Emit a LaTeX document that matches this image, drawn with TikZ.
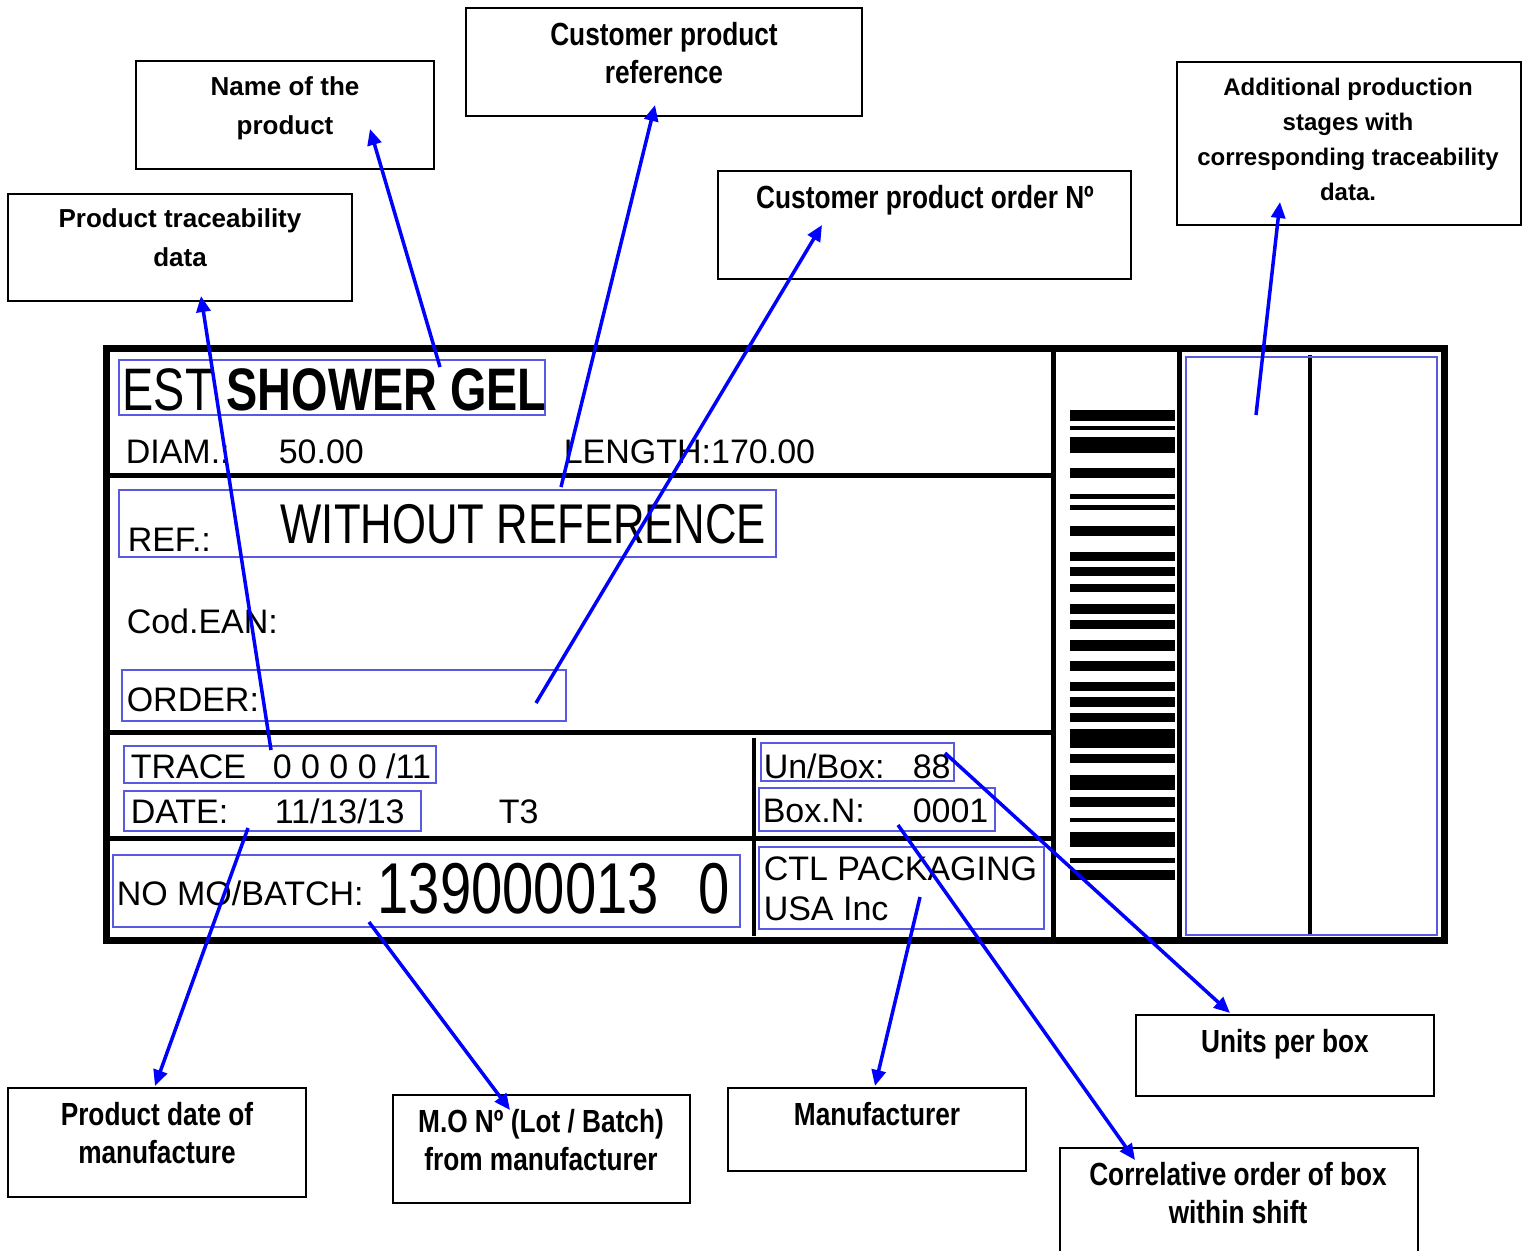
\documentclass[tikz,border=0pt]{standalone}
\usepackage{fontspec}
\setmainfont{Liberation Sans}
\newfontfamily\narrowfont[FakeStretch=0.82]{Liberation Sans}
\newfontfamily\condfont[FakeStretch=0.78]{Liberation Sans}
\usetikzlibrary{arrows.meta}
\definecolor{myblue}{RGB}{0,0,255}
\definecolor{myfieldblue}{RGB}{90,90,225}
\tikzset{every picture/.style={line width=0.75pt}}
\tikzset{
  callout/.style={draw=black, line width=1.2pt},
  fieldbox/.style={draw=myfieldblue, line width=1.2pt},
  pointer/.style={draw=myblue, line width=1.75pt, -{Triangle[length=8pt,width=7pt]}},
  calltext/.style={anchor=north, inner sep=0pt, align=center, font=\bfseries\fontsize{13}{19.5}\selectfont},
  narrowtext/.style={anchor=north, inner sep=0pt, align=center, font=\narrowfont\bfseries\fontsize{16}{19}\selectfont},
  labeltext/.style={anchor=base west, inner sep=0pt, font=\fontsize{17}{20}\selectfont},
}

\begin{document}
\begin{tikzpicture}[x=0.5pt,y=0.5pt,yscale=-1,xscale=1]
\useasboundingbox (0,0) rectangle (1526,1250);

%Shape: Label frame
\draw [line width=3.5pt] (106,348) rectangle (1444,940);
%Shape: Label rulings
\draw [line width=2.5pt] (110,475) -- (1053,475);
\draw [line width=2.5pt] (110,732) -- (1053,732);
\draw [line width=2.5pt] (110,838) -- (1053,838);
\draw [line width=2.5pt] (1053,350) -- (1053,938);
\draw [line width=2pt] (754,738) -- (754,936);
\draw [line width=2.5pt] (1179,352) -- (1179,938);
\draw [line width=2pt] (1310,355) -- (1310,936);

%Shape: Bar code
\foreach \ya/\yb in {410/421,426/430,437/453,468/478,494/499,505/510,526/536,552/561,567/576,584/592,604/614,620/629,640/651,661/671,682/691,697/707,713/722,729/748,754/763,775/790,797/807,818/822,832/847,858/863,870/880}
  \fill (1070,\ya) rectangle (1175,\yb);

%Shape: Field boxes
\draw [fieldbox] (119,360) rectangle (545,415);
\draw [fieldbox] (119,490) rectangle (776,557);
\draw [fieldbox] (122,670) rectangle (566,721);
\draw [fieldbox] (124,746) rectangle (436,783);
\draw [fieldbox] (124,791) rectangle (421,831);
\draw [fieldbox] (113,855) rectangle (740,927);
\draw [fieldbox] (761,743) rectangle (954,781);
\draw [fieldbox] (759,788) rectangle (995,831);
\draw [fieldbox] (759,847) rectangle (1044,929);
\draw [fieldbox] (1186,357) rectangle (1437,935);

% Text Node
\node [labeltext, font=\condfont\fontsize{30}{32}\selectfont] (prodName) at (122,410) {EST \textbf{SHOWER GEL}};
\node [labeltext] (diamLbl) at (125,463) {DIAM.:};
\node [labeltext] (diamVal) at (278,463) {50.00};
\node [labeltext] (lengthLbl) at (563,463) {LENGTH:170.00};
\node [labeltext] (refLbl) at (127,551) {REF.:};
\node [labeltext, font=\condfont\fontsize{28}{30}\selectfont] (refVal) at (280,543) {WITHOUT REFERENCE};
\node [labeltext] (eanLbl) at (126,633) {Cod.EAN:};
\node [labeltext] (orderLbl) at (126,711) {ORDER:};
\node [labeltext] (traceLbl) at (130,778) {TRACE};
\node [labeltext] (traceVal) at (272,778) {0 0 0 0 /11};
\node [labeltext] (dateLbl) at (130,823) {DATE:};
\node [labeltext] (dateVal) at (274,823) {11/13/13};
\node [labeltext] (shiftVal) at (498,823) {T3};
\node [labeltext] (batchLbl) at (116,905) {NO MO/BATCH:};
\node [labeltext, font=\condfont\fontsize{36}{38}\selectfont] (batchVal) at (377,913) {139000013};
\node [labeltext, font=\condfont\fontsize{36}{38}\selectfont] (batchEnd) at (698,913) {0};
\node [labeltext] (unitsLbl) at (763,778) {Un/Box:};
\node [labeltext] (unitsVal) at (912,778) {88};
\node [labeltext] (boxLbl) at (762,822) {Box.N:};
\node [labeltext] (boxVal) at (912,822) {0001};
\node [labeltext] (makerLbl) at (763,880) {CTL PACKAGING};
\node [labeltext] (makerLbl2) at (763,920) {USA Inc};

%Shape: Callout boxes
\draw [callout] (136,61) rectangle (434,169);
\draw [callout] (466,8) rectangle (862,116);
\draw [callout] (8,194) rectangle (352,301);
\draw [callout] (718,171) rectangle (1131,279);
\draw [callout] (1177,62) rectangle (1521,225);
\draw [callout] (8,1088) rectangle (306,1197);
\draw [callout] (393,1095) rectangle (690,1203);
\draw [callout] (728,1088) rectangle (1026,1171);
\draw [callout] (1136,1015) rectangle (1434,1096);
\draw [callout] (1060,1148) rectangle (1418,1262);

% Text Node
\node [calltext] (nameTxt) at (285,76) {Name of the\\product};
\node [narrowtext] (custRefTxt) at (664,22) {Customer product\\reference};
\node [calltext] (traceTxt) at (180,208) {Product traceability\\data};
\node [narrowtext] (orderTxt) at (925,185) {Customer product order Nº};
\node [calltext, font=\bfseries\fontsize{12}{17.5}\selectfont] (stagesTxt) at (1348,77) {Additional production\\stages with\\corresponding traceability\\data.};
\node [narrowtext] (dateTxt) at (157,1102) {Product date of\\manufacture};
\node [narrowtext] (batchTxt) at (541,1109) {M.O Nº (Lot / Batch)\\from manufacturer};
\node [narrowtext] (makerTxt) at (877,1102) {Manufacturer};
\node [narrowtext] (unitsTxt) at (1285,1029) {Units per box};
\node [narrowtext] (boxOrderTxt) at (1238,1162) {Correlative order of box\\within shift};

% Pointer ends
\coordinate (pName) at (440,367);   \coordinate (tName) at (370,129);
\coordinate (pRef) at (561,487);    \coordinate (tRef) at (655,105);
\coordinate (pTrace) at (271,750);  \coordinate (tTrace) at (201,296);
\coordinate (pOrder) at (536,703);  \coordinate (tOrder) at (822,225);
\coordinate (pStages) at (1256,415); \coordinate (tStages) at (1280,202);
\coordinate (pDate) at (248,828);   \coordinate (tDate) at (155,1086);
\coordinate (pBatch) at (369,922);  \coordinate (tBatch) at (510,1110);
\coordinate (pMaker) at (920,897);  \coordinate (tMaker) at (875,1086);
\coordinate (pUnits) at (945,753);  \coordinate (tUnits) at (1230,1013);
\coordinate (pBoxNo) at (898,825);  \coordinate (tBoxNo) at (1135,1160);

%Straight Lines with arrows
\draw [pointer] (pName) -- (tName);
\draw [pointer] (pRef) -- (tRef);
\draw [pointer] (pTrace) -- (tTrace);
\draw [pointer] (pOrder) -- (tOrder);
\draw [pointer] (pStages) -- (tStages);
\draw [pointer] (pDate) -- (tDate);
\draw [pointer] (pBatch) -- (tBatch);
\draw [pointer] (pMaker) -- (tMaker);
\draw [pointer] (pUnits) -- (tUnits);
\draw [pointer] (pBoxNo) -- (tBoxNo);

\end{tikzpicture}
\end{document}
